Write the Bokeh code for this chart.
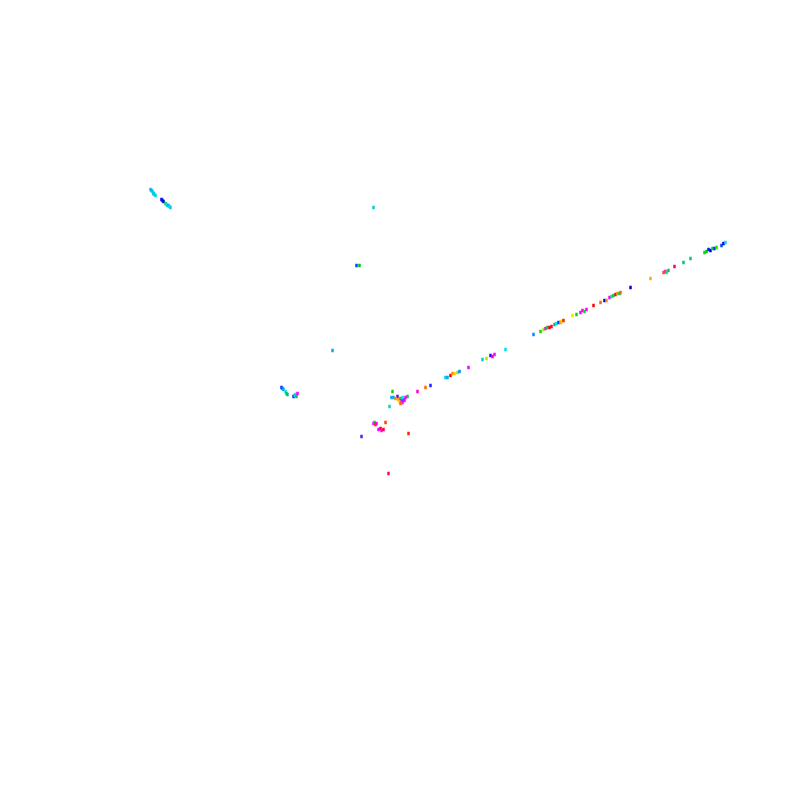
from bokeh.plotting import figure
from bokeh.models import Range1d, ColumnDataSource
from bokeh.embed import file_html
from bokeh.resources import INLINE

# point positions (page pixel coordinates)
xs = [150, 151, 152, 153, 154, 155, 153, 161, 162, 163, 165, 166, 167, 168, 169, 170,
      281, 282, 283, 285, 286, 287, 293, 294, 295, 296, 297,
      373, 356, 359, 332,
      392, 417, 391, 393, 397, 395, 407, 405, 398, 399, 400, 401, 402, 403, 400, 402, 404, 389,
      373, 374, 375, 376, 385, 378, 380, 381, 383, 408, 361, 388,
      425, 430, 445, 447, 450, 452, 454, 457, 459, 468, 482, 486, 490, 492, 494, 505,
      533, 540, 543, 545, 547, 549, 551, 554, 556, 558, 560, 561, 563, 572, 576, 580, 582, 584, 586,
      593, 600, 604, 606, 609, 611, 613, 615, 617, 619, 620, 630,
      650, 663, 665, 666, 668, 674, 683, 690, 704, 706, 708, 710, 712, 714, 716, 721, 723, 725]
ys = [189, 190, 191, 193, 194, 195, 193, 199, 200, 201, 203, 204, 205, 205, 206, 207,
      387, 388, 389, 391, 393, 394, 396, 395, 394, 396, 393,
      207, 265, 265, 350,
      391, 391, 397, 397, 396, 398, 396, 397, 399, 401, 398, 400, 402, 399, 403, 397, 400, 406,
      423, 422, 424, 423, 422, 429, 428, 430, 429, 433, 436, 473,
      387, 385, 377, 377, 375, 373, 373, 372, 371, 367, 359, 358, 355, 356, 354, 349,
      334, 331, 329, 328, 327, 327, 326, 324, 323, 322, 322, 321, 320, 315, 314, 312, 310, 311, 309,
      305, 302, 300, 300, 297, 296, 295, 294, 293, 293, 292, 287,
      278, 272, 271, 272, 270, 266, 262, 258, 252, 251, 249, 250, 248, 248, 247, 245, 243, 242]
colors = ["#00ccee", "#00aaff", "#00ccee", "#00bb66", "#00ddee", "#00ccee", "#00ccee", "#0000dd", "#0022ff", "#0000dd", "#00cc44", "#00ddee", "#00ccee", "#00aaff", "#00ddee", "#00ccee",
          "#0033ff", "#0066ff", "#00aaff", "#00ddee", "#00cc44", "#00bb88", "#0033ff", "#00aaff", "#00ddee", "#00cc44", "#ff00ff",
          "#00ccdd", "#0044ff", "#00bb22",
          "#00aaff",
          "#22cc00", "#ff00cc", "#00aaff", "#00aaff", "#6600ff", "#ff8800", "#00cc22", "#ff00ff", "#ff8800", "#ffcc00", "#00cc44", "#ff00ff", "#ff00ff", "#3333ff", "#ff6600", "#00ddee", "#ff00ff", "#00ddbb",
          "#ff00ff", "#00cc44", "#ff2200", "#ff00ff", "#ff4400", "#ff00ff", "#ff0000", "#ff00ff", "#ff0044", "#ff2200", "#3333ff", "#ff0066",
          "#ff6600", "#2222ff", "#00ccee", "#00aaff", "#ff0000", "#ff8800", "#ffcc00", "#88ee00", "#0088ff", "#ff00ff", "#00ccdd", "#aaee00", "#3300ff", "#ff00cc", "#ff00ff", "#00ddee",
          "#0088ff", "#00dd00", "#aaee00", "#ff00ff", "#00cc44", "#ff0000", "#ff0044", "#00cc44", "#00ddee", "#0044ff", "#ff8800", "#ffcc00", "#ff2200", "#ddee00", "#00dd00", "#ff00ff", "#ff00cc", "#00dd44", "#ff00ff",
          "#ff0000", "#ff6600", "#0000dd", "#ff8800", "#ff00ff", "#00ddaa", "#00dd00", "#ff0044", "#ff8800", "#00cc44", "#ff6600", "#0000ee",
          "#ffaa00", "#ff5500", "#ff00cc", "#00ddaa", "#00cc44", "#ff0066", "#00cc66", "#00cc66", "#00dd00", "#00cc22", "#0022ff", "#0000dd", "#00cc44", "#0033ff", "#22dd00", "#0044ff", "#0000ee", "#00ddee"]

src = ColumnDataSource(dict(x=xs, y=ys, c=colors))

p = figure(width=784, height=784, output_backend="svg", toolbar_location=None,
           x_range=Range1d(0, 784), y_range=Range1d(784, 0),
           min_border=0, outline_line_color=None)
p.axis.visible = False
p.grid.visible = False
p.rect("x", "y", source=src, width=2.5, height=3.5, width_units="screen",
       height_units="screen", fill_color="c", line_color=None)

open("out.html", "w").write(file_html(p, INLINE))
